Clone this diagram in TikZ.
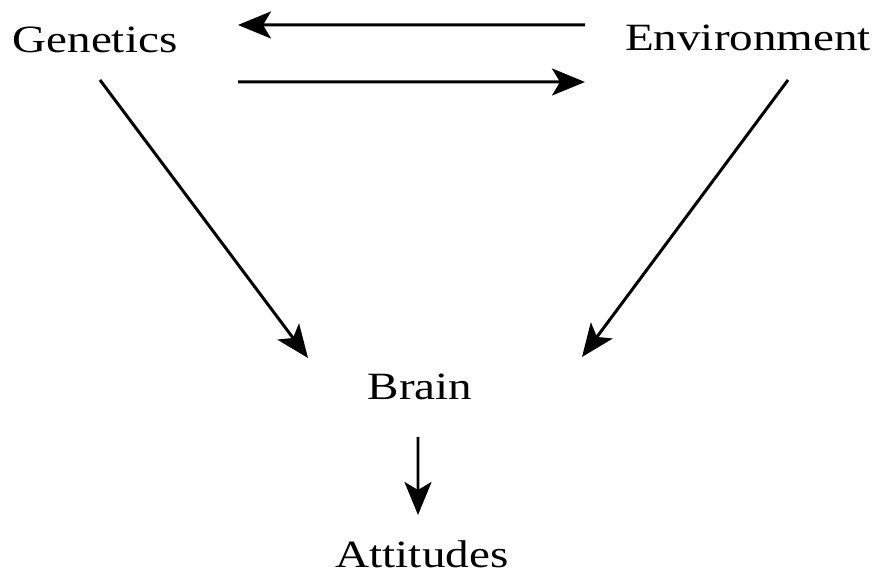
\documentclass[tikz,border=0pt]{standalone}
\usepackage{fontspec}
\setmainfont{Liberation Serif}
\usetikzlibrary{arrows.meta}
\tikzset{
    word/.style={inner sep=0pt, font=\fontsize{13.4}{16}\selectfont, yscale=0.82, transform shape},
    link/.style={line width=0.85pt, -{Stealth[length=3.3mm, width=2.7mm, inset=0.8mm]}},
}
\begin{document}
\begin{tikzpicture}
\useasboundingbox (0,0) rectangle (8.86,5.72);
\node[word] (gen) at (0.95,5.32) {Genetics};
\node[word] (env) at (7.48,5.34) {Environment};
\node[word] (brain) at (4.20,1.85) {Brain};
\node[word] (att) at (4.22,0.18) {Attitudes};
\draw[link] ([shift={(-1.63,0.13)}]env.center) -- ([shift={(1.43,0.15)}]gen.center);
\draw[link] ([shift={(1.43,-0.42)}]gen.center) -- ([shift={(-1.63,-0.44)}]env.center);
\draw[link] ([shift={(0.05,-0.40)}]gen.center) -- ([shift={(-1.12,0.29)}]brain.center);
\draw[link] ([shift={(0.40,-0.42)}]env.center) -- ([shift={(1.62,0.30)}]brain.center);
\draw[link] ([shift={(-0.02,-0.50)}]brain.center) -- ([shift={(-0.04,0.39)}]att.center);
\end{tikzpicture}
\end{document}
